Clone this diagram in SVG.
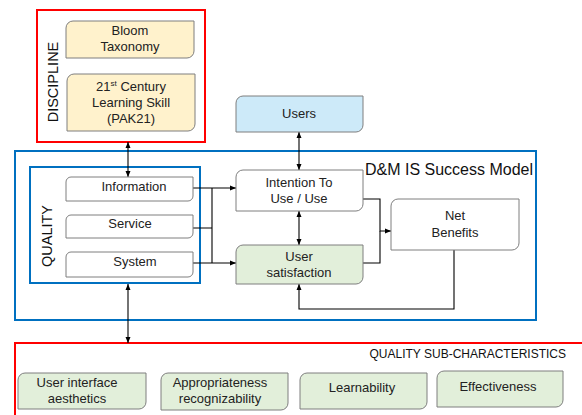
<svg xmlns="http://www.w3.org/2000/svg" width="582" height="415" viewBox="0 0 582 415">
<defs>
<marker id="ah" markerUnits="userSpaceOnUse" markerWidth="6" markerHeight="6" viewBox="0 0 6 6" refX="6" refY="3" orient="auto-start-reverse"><path d="M0,0.5 L6,3 L0,5.5 Z" fill="#000"/></marker>
</defs>
<style>
.t{font-family:"Liberation Sans",Arial,sans-serif;font-size:13px;fill:#222;text-anchor:middle}
.node{stroke:#7f7f7f;stroke-width:1}
.yel{fill:#fff2cc}.blu{fill:#cdeaf9}.grn{fill:#e2efda}.wht{fill:#fff}
.red{fill:none;stroke:#ff0000;stroke-width:2}
.bl{fill:none;stroke:#0070c0;stroke-width:2}
.c{fill:none;stroke:#000;stroke-width:1.1}
.big{font-family:"Liberation Sans",Arial,sans-serif;fill:#111}
</style>
<rect width="582" height="415" fill="#fff"/>
<g id="frames">
<rect class="red" x="37" y="10" width="168" height="132"/>
<rect class="bl" x="15" y="151" width="521" height="169"/>
<rect class="bl" x="30" y="167" width="170" height="116"/>
<rect class="red" x="15" y="343" width="578" height="80"/>
<text class="big" font-size="14.5" transform="translate(58,82) rotate(-90)" text-anchor="middle">DISCIPLINE</text>
<text class="big" font-size="14.5" transform="translate(52,236) rotate(-90)" text-anchor="middle">QUALITY</text>
<text class="big" font-size="16" x="533" y="175" text-anchor="end">D&amp;M IS Success Model</text>
<text class="big" font-size="12" x="566" y="358" text-anchor="end">QUALITY SUB-CHARACTERISTICS</text>
</g>
<g id="connectors">
<path class="c" d="M128,142 V177" marker-start="url(#ah)" marker-end="url(#ah)"/>
<path class="c" d="M299,132 V170" marker-start="url(#ah)" marker-end="url(#ah)"/>
<path class="c" d="M299,211 V245" marker-start="url(#ah)" marker-end="url(#ah)"/>
<path class="c" d="M193,188 H236" marker-end="url(#ah)"/>
<path class="c" d="M193,263 H236" marker-end="url(#ah)"/>
<path class="c" d="M212,188 V263 M193,228 H212"/>
<path class="c" d="M363,199 H380 V231 H391" marker-end="url(#ah)"/>
<path class="c" d="M363,263 H380 V231"/>
<path class="c" d="M454,250 V309 H299 V284" marker-end="url(#ah)"/>
<path class="c" d="M128,284 V343" marker-start="url(#ah)" marker-end="url(#ah)"/>
</g>
<g id="bloom"><path class="node yel" d="M73,21 H194 V51 A7,7 0 0 1 187,58 H66 V28 A7,7 0 0 1 73,21 Z"/>
<text class="t" x="130" y="35">Bloom</text><text class="t" x="130" y="51">Taxonomy</text></g>
<g id="century"><path class="node yel" d="M74,74 H195 V124 A7,7 0 0 1 188,131 H67 V81 A7,7 0 0 1 74,74 Z"/>
<text class="t" x="131" y="91">21<tspan font-size="8" dy="-5">st</tspan><tspan dy="5"> Century</tspan></text>
<text class="t" x="131" y="107">Learning Skill</text><text class="t" x="131" y="123">(PAK21)</text></g>
<g id="users"><path class="node blu" d="M243,96 H363 V125 A7,7 0 0 1 356,132 H236 V103 A7,7 0 0 1 243,96 Z"/>
<text class="t" x="299" y="118">Users</text></g>
<g id="intention"><path class="node wht" d="M243,170 H363 V204 A7,7 0 0 1 356,211 H236 V177 A7,7 0 0 1 243,170 Z"/>
<text class="t" x="299" y="187">Intention To</text><text class="t" x="299" y="203">Use / Use</text></g>
<g id="usersat"><path class="node grn" d="M243,245 H363 V277 A7,7 0 0 1 356,284 H236 V252 A7,7 0 0 1 243,245 Z"/>
<text class="t" x="299" y="261">User</text><text class="t" x="299" y="277">satisfaction</text></g>
<g id="netbenefits"><path class="node wht" d="M398,199 H519 V243 A7,7 0 0 1 512,250 H391 V206 A7,7 0 0 1 398,199 Z"/>
<text class="t" x="455" y="220">Net</text><text class="t" x="455" y="237">Benefits</text></g>
<g id="information"><path class="node wht" d="M71,177 H193 V196 A5,5 0 0 1 188,201 H66 V182 A5,5 0 0 1 71,177 Z"/>
<text class="t" x="134" y="191">Information</text></g>
<g id="service"><path class="node wht" d="M71,215 H193 V233 A5,5 0 0 1 188,238 H66 V220 A5,5 0 0 1 71,215 Z"/>
<text class="t" x="130" y="228">Service</text></g>
<g id="system"><path class="node wht" d="M71,252 H193 V272 A5,5 0 0 1 188,277 H66 V257 A5,5 0 0 1 71,252 Z"/>
<text class="t" x="135" y="266">System</text></g>
<g id="uiaesthetics"><path class="node grn" d="M25,373 H146 V402 A7,7 0 0 1 139,409 H18 V380 A7,7 0 0 1 25,373 Z"/>
<text class="t" x="77" y="387">User interface</text><text class="t" x="77" y="403">aesthetics</text></g>
<g id="appropriateness"><path class="node grn" d="M168,373 H288 V403 A7,7 0 0 1 281,410 H161 V380 A7,7 0 0 1 168,373 Z"/>
<text class="t" x="220" y="387" font-size="12.5">Appropriateness</text><text class="t" x="220" y="403" font-size="12.5">recognizability</text></g>
<g id="learnability"><path class="node grn" d="M307,373 H427 V402 A7,7 0 0 1 420,409 H300 V380 A7,7 0 0 1 307,373 Z"/>
<text class="t" x="362" y="392" font-size="11.5">Learnability</text></g>
<g id="effectiveness"><path class="node grn" d="M444,371 H563 V400 A7,7 0 0 1 556,407 H437 V378 A7,7 0 0 1 444,371 Z"/>
<text class="t" x="498" y="391" font-size="11.5">Effectiveness</text></g>
</svg>
